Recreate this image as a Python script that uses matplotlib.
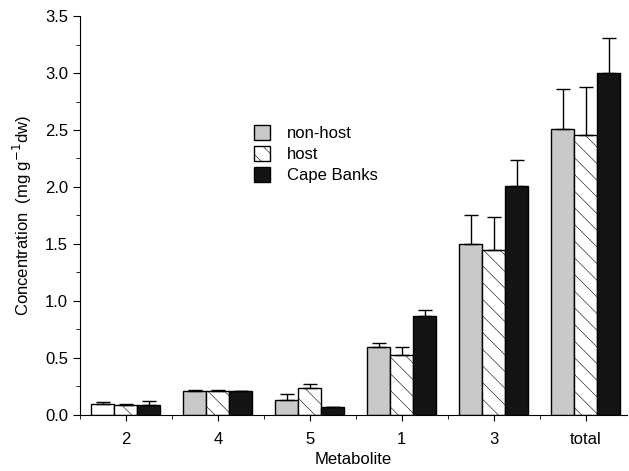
import numpy as np
import matplotlib.pyplot as plt
from matplotlib.ticker import MultipleLocator

plt.rcParams['font.family'] = ['Liberation Sans', 'DejaVu Sans']
plt.rcParams['hatch.linewidth'] = 0.4

metabolites = ["2", "4", "5", "1", "3", "total"]
nonhost = [0.10, 0.21, 0.13, 0.60, 1.50, 2.51]
nonhost_err = [0.01, 0.01, 0.05, 0.03, 0.25, 0.35]
host = [0.09, 0.21, 0.24, 0.53, 1.45, 2.46]
host_err = [0.01, 0.01, 0.03, 0.07, 0.29, 0.42]
cape = [0.09, 0.21, 0.07, 0.87, 2.01, 3.00]
cape_err = [0.03, 0.00, 0.00, 0.05, 0.23, 0.31]

x = np.arange(len(metabolites))
w = 0.25

fig = plt.figure(figsize=(6.29, 4.71), dpi=100)
ax = fig.add_axes([0.127, 0.119, 0.870, 0.847])

ek = dict(capsize=5, elinewidth=1, capthick=1, ecolor='black')
b1 = ax.bar(x - w, nonhost, w, color='#c9c9c9', edgecolor='black', linewidth=1,
            label='non-host')
ax.errorbar(x - w, nonhost, yerr=[np.zeros(6), nonhost_err], fmt='none', **ek)
ax.bar(x, host, w, color='white', edgecolor='black', linewidth=1,
       hatch='\\\\', label='host')
ax.errorbar(x, host, yerr=[np.zeros(6), host_err], fmt='none', **ek)
ax.bar(x + w, cape, w, color='#141414', edgecolor='black', linewidth=1,
       label='Cape Banks')
ax.errorbar(x + w, cape, yerr=[np.zeros(6), cape_err], fmt='none', **ek)

ax.set_xlim(-0.5, 5.45)
ax.set_ylim(0, 3.5)
ax.set_xticks(x)
ax.set_xticklabels(metabolites, fontsize=12)
ax.xaxis.set_minor_locator(MultipleLocator(1, offset=0.5))
ax.yaxis.set_major_locator(MultipleLocator(0.5))
ax.yaxis.set_minor_locator(MultipleLocator(0.25))
ax.yaxis.set_major_formatter(plt.FormatStrFormatter('%.1f'))
ax.tick_params(axis='y', labelsize=12, length=5, direction='out')
ax.tick_params(axis='x', length=4, direction='out', pad=8)
ax.tick_params(which='minor', length=3)
for s in ['top', 'right']:
    ax.spines[s].set_visible(False)

ax.set_xlabel('Metabolite', fontsize=12)
ax.set_ylabel('Concentration  (mg g$^{-1}$dw)', fontsize=12, labelpad=8)

ax.legend(loc='upper left', bbox_to_anchor=(0.29, 0.765), frameon=False,
          fontsize=12, handlelength=1.0, handleheight=1.0, labelspacing=0.3,
          handletextpad=1.0)
# first group's non-host bar is unshaded in the original
b1[0].set_facecolor('white')

fig.savefig('out.png', dpi=100)
